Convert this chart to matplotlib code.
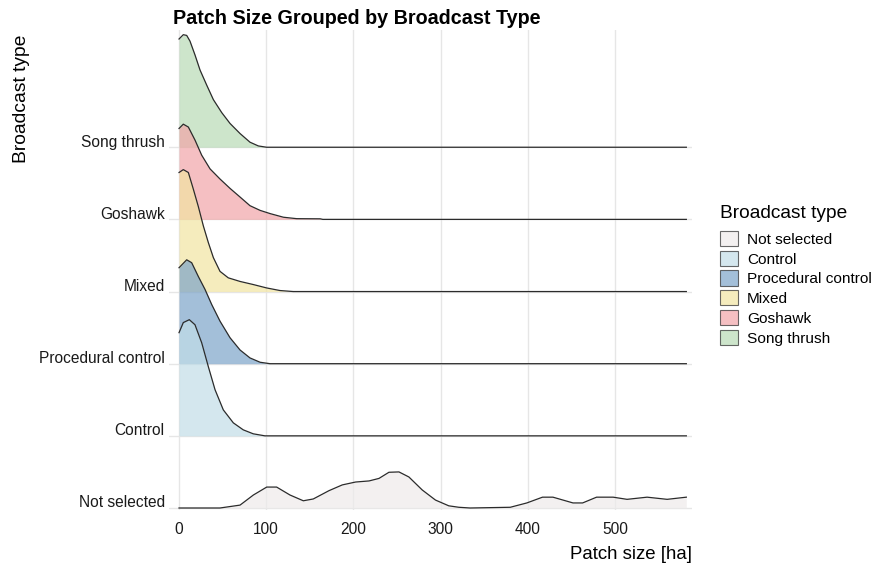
import matplotlib
matplotlib.use("Agg")
import matplotlib.pyplot as plt
from matplotlib.patches import Patch
from matplotlib.transforms import ScaledTranslation

plt.rcParams['font.family'] = ['Liberation Sans', 'DejaVu Sans']

#----------------------- data --------------------------------------------------
categories = ["Not selected", "Control", "Procedural control", "Mixed",
              "Goshawk", "Song thrush"]

# patch size [ha] and ridge height (in row units) for each group
ns_x = [0, 47, 70, 85.3, 100.6, 112, 127.3, 142.6, 154, 172, 187.3, 202.6,
        218, 229.4, 240.8, 252.3, 263.7, 279, 294.2, 309.5, 321, 334, 380,
        399, 417, 429, 452, 463, 479, 498, 514, 537, 560, 582]
ns_h = [0, 0, 0.04, 0.18, 0.29, 0.29, 0.18, 0.10, 0.125, 0.24, 0.32, 0.36,
        0.375, 0.41, 0.495, 0.50, 0.43, 0.25, 0.11, 0.03, 0.01, 0, 0.01,
        0.07, 0.15, 0.15, 0.07, 0.07, 0.15, 0.15, 0.12, 0.15, 0.12, 0.15]

ctrl_x = [0, 4.9, 11.8, 18.3, 26, 33.6, 41.3, 50.8, 62.3, 73.7, 85.2, 98.6,
          582]
ctrl_h = [1.43, 1.57, 1.61, 1.54, 1.29, 0.96, 0.64, 0.36, 0.18, 0.083, 0.028,
          0, 0]

proc_x = [0, 8.8, 14.5, 22.1, 29.8, 37.5, 47, 58.5, 70, 81.4, 93, 104.4, 582]
proc_h = [1.33, 1.44, 1.40, 1.21, 1.03, 0.82, 0.59, 0.36, 0.19, 0.08, 0.02,
          0, 0]

mix_x = [0, 4.9, 10.7, 16.4, 22.1, 27.9, 33.6, 39.4, 47, 56.5, 70, 85.2,
         100.5, 115.8, 131.1, 582]
mix_h = [1.65, 1.69, 1.65, 1.42, 1.18, 0.91, 0.68, 0.47, 0.28, 0.19, 0.14,
         0.097, 0.05, 0.014, 0, 0]

gos_x = [0, 4.9, 10.7, 18.3, 26, 35.6, 47, 58.5, 70, 81.4, 93, 104.6, 119.8,
         135, 162, 165, 582]
gos_h = [1.26, 1.32, 1.28, 1.10, 0.89, 0.70, 0.56, 0.43, 0.31, 0.19, 0.125,
         0.08, 0.03, 0.01, 0.008, 0, 0]

song_x = [0, 4.9, 8.8, 12.6, 18.3, 24.1, 31.8, 39.4, 49, 58.5, 70, 81.4, 91,
          100.5, 582]
song_h = [1.50, 1.56, 1.55, 1.47, 1.28, 1.07, 0.86, 0.66, 0.48, 0.33, 0.19,
          0.07, 0.018, 0, 0]

xs = [ns_x, ctrl_x, proc_x, mix_x, gos_x, song_x]
hs = [ns_h, ctrl_h, proc_h, mix_h, gos_h, song_h]

colors = ["#eeebeb", "#c2dee8", "#7ca4c9", "#f1e4a2", "#f1a5a8", "#b8dab6"]
ALPHA = 0.7
LINE = "#2b2b2b"

#----------------------- figure ------------------------------------------------
W, H = 877, 568
fig = plt.figure(figsize=(W / 100, H / 100), dpi=100)
ax = fig.add_axes([169 / W, 1 - 510 / H, (692 - 169) / W, (510 - 30) / H])

# top rows first, lower rows drawn over them
for i in range(len(categories) - 1, -1, -1):
    base = i + 1
    top = [base + h for h in hs[i]]
    z = 10 + (len(categories) - i) * 2
    ax.fill_between(xs[i], base, top, color=colors[i], alpha=ALPHA,
                    linewidth=0, zorder=z)
    ax.plot(xs[i], top, color=LINE, lw=0.9, zorder=z + 1,
            solid_joinstyle='round')

ax.set_xlim(-11.5, 588.5)
ax.set_ylim(1 - 2 / 72, 6 + (147 - 30) / 72)

ax.set_xticks([0, 100, 200, 300, 400, 500])
ax.set_yticks(range(1, len(categories) + 1))
ax.set_yticklabels(categories)
ax.tick_params(axis='both', length=0, labelsize=11.2, colors='#1a1a1a')
ax.tick_params(axis='x', pad=9)
ax.tick_params(axis='y', pad=3)
for lbl in ax.get_yticklabels():
    lbl.set_va('baseline')
    lbl.set_transform(lbl.get_transform() +
                      ScaledTranslation(0, 0.5 / 72, fig.dpi_scale_trans))

ax.grid(True, color='#e6e6e6', lw=1.0, zorder=0)
ax.set_axisbelow(True)
for s in ax.spines.values():
    s.set_visible(False)

ax.set_xlabel("Patch size [ha]", loc='right', fontsize=13.4, labelpad=6)
fig.text(22 / W, 1 - 35 / H, "Broadcast type", rotation=90, fontsize=13.9,
         ha='center', va='top')
fig.text(173 / W, 1 - 18 / H, "Patch Size Grouped by Broadcast Type",
         fontsize=14.2, fontweight='bold', ha='left', va='center')

# legend
fig.text(720 / W, 1 - 213 / H, "Broadcast type", fontsize=13.8,
         ha='left', va='center')
handles = [Patch(facecolor=c, alpha=ALPHA, edgecolor=LINE, lw=0.8)
           for c in colors]
leg = fig.legend(handles, categories,
                 loc='upper left', bbox_to_anchor=(720 / W, 1 - 231 / H),
                 frameon=False, fontsize=11.1,
                 handlelength=1.15, handleheight=1.15, handletextpad=0.6,
                 labelspacing=0.25, borderpad=0, borderaxespad=0)
for p in leg.get_patches():
    p.set_edgecolor(LINE)

fig.savefig("out.png", dpi=100)
